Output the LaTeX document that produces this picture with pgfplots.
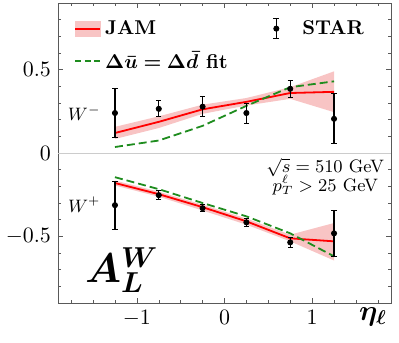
\documentclass[border=0pt]{standalone}
\usepackage{pgfplots}
\usepackage{bm}
\pgfplotsset{compat=1.18}
\definecolor{bandred}{RGB}{248,196,196}
\definecolor{fitgreen}{RGB}{30,140,30}
\begin{document}
\begin{tikzpicture}
\begin{axis}[
  width=166.5pt, height=150pt, scale only axis,
  xmin=-1.9, xmax=1.9, ymin=-0.9, ymax=0.9,
  xtick={-1,0,1}, ytick={-0.5,0,0.5},
  minor xtick={-1.75,-1.5,-1.25,-0.75,-0.5,-0.25,0.25,0.5,0.75,1.25,1.5,1.75},
  minor ytick={-0.8,-0.7,-0.6,-0.4,-0.3,-0.2,-0.1,0.1,0.2,0.3,0.4,0.6,0.7,0.8},
  major tick length=2.5pt, minor tick length=1.5pt,
  axis line style={gray!70!black}, tick style={gray!70!black},
  tick label style={font=\fontsize{11}{13}\selectfont},
  xlabel={$\bm{\eta}_{\bm{\ell}}$},
  xlabel style={at={(axis description cs:0.946,-0.045)}, anchor=center, font=\Large},
  legend columns=2,
  legend cell align=left,
  legend style={draw=none, fill=none, at={(axis description cs:0.03,0.965)}, anchor=north west,
    font=\bfseries, row sep=6pt, nodes={inner ysep=0pt},
    /tikz/every even column/.append style={column sep=20.5pt}},
]
\addplot[gray!40, forget plot] coordinates {(-1.9,0) (1.9,0)};

\addlegendimage{legend image code/.code={\fill[bandred] (0pt,-3.75pt) rectangle (12.5pt,3.75pt); \draw[red, line width=0.9pt] (0pt,0pt) -- (12.5pt,0pt);}}
\addlegendentry{JAM}
\addlegendimage{legend image code/.code={\path[draw=none, fill=none] (0pt,0pt) -- (12.5pt,0pt); \draw[black, line width=0.7pt] (1.5pt,-5pt) -- (1.5pt,5pt); \draw[black, line width=0.6pt] (0pt,-5pt) -- (3pt,-5pt); \draw[black, line width=0.6pt] (0pt,5pt) -- (3pt,5pt); \fill[black] (1.5pt,0pt) circle (1.3pt);}}
\addlegendentry{STAR}
\addlegendimage{legend image code/.code={\draw[fitgreen, line width=0.9pt, dash pattern=on 3pt off 1.75pt] (0pt,0pt) -- (12.5pt,0pt);}}
\addlegendentry{$\bm{\Delta\bar u=\Delta\bar d}$ fit}

% JAM bands
\addplot[fill=bandred, draw=none, forget plot] coordinates {
 (-1.25,0.157) (-0.75,0.22) (-0.25,0.29) (0.25,0.33) (0.75,0.395) (1.25,0.49)
 (1.25,0.245) (0.75,0.325) (0.25,0.285) (-0.25,0.235) (-0.75,0.15) (-1.25,0.084)};
\addplot[fill=bandred, draw=none, forget plot] coordinates {
 (-1.25,-0.165) (-0.75,-0.232) (-0.25,-0.31) (0.25,-0.393) (0.75,-0.49) (1.25,-0.42)
 (1.25,-0.645) (0.75,-0.53) (0.25,-0.43) (-0.25,-0.345) (-0.75,-0.262) (-1.25,-0.195)};

% JAM central
\addplot[red, line width=0.9pt, forget plot] coordinates {
 (-1.25,0.12) (-0.75,0.187) (-0.25,0.262) (0.25,0.307) (0.75,0.36) (1.25,0.367)};
\addplot[red, line width=0.9pt, forget plot] coordinates {
 (-1.25,-0.18) (-0.75,-0.247) (-0.25,-0.325) (0.25,-0.41) (0.75,-0.512) (1.25,-0.53)};

% fit
\addplot[fitgreen, line width=0.9pt, dash pattern=on 4pt off 2pt, forget plot] coordinates {
 (-1.25,0.036) (-0.75,0.075) (-0.25,0.163) (0.25,0.283) (0.75,0.395) (1.25,0.43)};
\addplot[fitgreen, line width=0.9pt, dash pattern=on 4pt off 2pt, forget plot] coordinates {
 (-1.25,-0.145) (-0.75,-0.217) (-0.25,-0.30) (0.25,-0.38) (0.75,-0.482) (1.25,-0.62)};

% STAR data
\addplot+[black, only marks, mark=*, mark size=1.3pt, mark options={black, fill=black}, forget plot,
  error bars/.cd, y dir=both, y explicit, error bar style={line width=0.7pt}]
 coordinates {
 (-1.25,0.24) +- (0,0.145)
 (-0.75,0.265) +- (0,0.048)
 (-0.25,0.278) +- (0,0.06)
 (0.25,0.24) +- (0,0.06)
 (0.75,0.385) +- (0,0.05)
 (1.25,0.205) +- (0,0.15)};
\addplot+[black, only marks, mark=*, mark size=1.3pt, mark options={black, fill=black}, forget plot,
  error bars/.cd, y dir=both, y explicit, error bar style={line width=0.7pt}]
 coordinates {
 (-1.25,-0.313) +- (0,0.145)
 (-0.75,-0.253) +- (0,0.028)
 (-0.25,-0.331) +- (0,0.022)
 (0.25,-0.416) +- (0,0.025)
 (0.75,-0.536) +- (0,0.03)
 (1.25,-0.482) +- (0,0.14)};

\node[font=\small] at (axis cs:-1.6,0.24) {$W^-$};
\node[font=\small] at (axis cs:-1.6,-0.31) {$W^+$};
\node[font=\fontsize{22}{26}\selectfont, inner sep=0pt, anchor=base west] at (axis cs:-1.595,-0.777) {$\bm{A}_{\bm{L}}^{\bm{W}}$};
\node[font=\small, inner sep=0pt, anchor=base] at (axis cs:1.149,-0.118) {$\sqrt{s}=510$ GeV};
\node[font=\small, inner sep=0pt, anchor=base] at (axis cs:1.15,-0.228) {$p_T^\ell>25$ GeV};
\end{axis}
\pgfresetboundingbox
\path ([shift={(-29pt,-19.5pt)}]current axis.south west) rectangle ([shift={(170.5pt,151.5pt)}]current axis.south west);
\end{tikzpicture}
\end{document}
